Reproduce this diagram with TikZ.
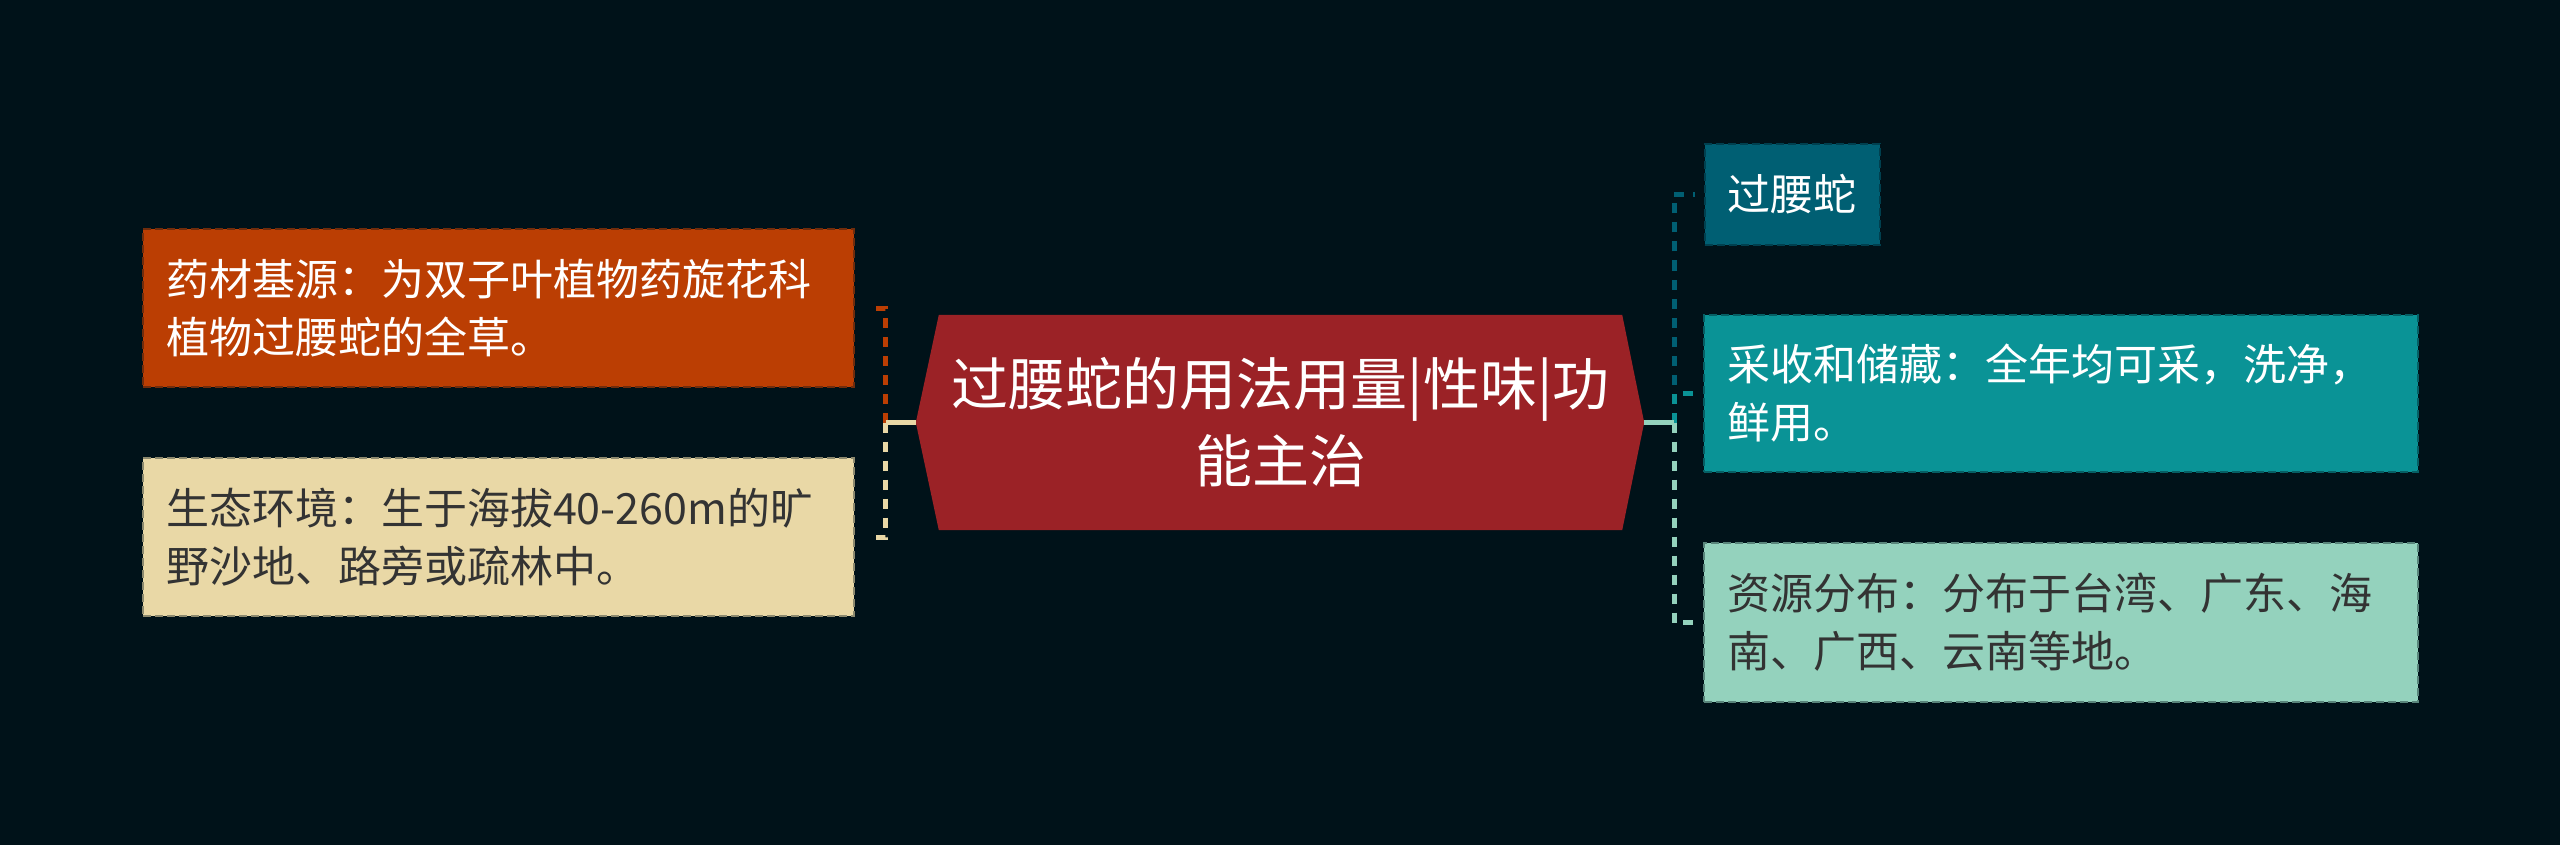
\documentclass[tikz,border=0pt]{standalone}
\usepackage{fontspec}
\setmainfont{Noto Sans CJK SC}
\usetikzlibrary{calc,backgrounds}
\definecolor{bgc}{HTML}{001219}
\definecolor{cdteal}{HTML}{005F73}
\definecolor{cteal}{HTML}{0A9396}
\definecolor{cmint}{HTML}{94D2BD}
\definecolor{cbeige}{HTML}{E9D8A6}
\definecolor{corange}{HTML}{BB3E03}
\definecolor{cred}{HTML}{9B2226}
\definecolor{darktext}{HTML}{333333}
\begin{document}
\begin{tikzpicture}[x=1pt,y=-1pt,
  box/.style={rectangle, inner xsep=23pt, inner ysep=0pt, align=left,
    font=\fontsize{43}{58}\selectfont, line width=1.5pt, dash pattern=on 8pt off 4pt},
  widebox/.style={box, minimum width=#1, text width=#1-46pt},
  obox/.style={fill=corange, draw=corange!60!bgc, text=white},
  bbox/.style={fill=cbeige, draw=cbeige!60!bgc, text=darktext},
  dtbox/.style={fill=cdteal, draw=cdteal!60!bgc, text=white},
  tbox/.style={fill=cteal, draw=cteal!60!bgc, text=white},
  mbox/.style={fill=cmint, draw=cmint!60!bgc, text=darktext},
  conn/.style={line width=5pt, dash pattern=on 10pt off 9pt},
  solidconn/.style={line width=4.5pt},
  hub/.style={rectangle, minimum width=683pt, minimum height=215pt, inner sep=0pt,
    align=center, text=white, font=\fontsize{57}{77}\selectfont}
]
\begin{scope}[on background layer]
\fill[bgc] (0,0) rectangle (2560,845);
\end{scope}
\useasboundingbox (0,0) rectangle (2560,845);

% central node
\node[hub] (c) at (1280.5,422.5) {过腰蛇的用法用量|性味|功\\能主治};
\coordinate (cl) at ($(c.west)+(-23,0)$);
\coordinate (cr) at ($(c.east)+(22,0)$);
\begin{scope}[on background layer]
\fill[cred] (c.north west) -- (c.north east) -- (cr) -- (c.south east) -- (c.south west) -- (cl) -- cycle;
\end{scope}

% left boxes
\node[widebox=711pt, minimum height=158pt, obox] (b1) at (498.5,308)
  {药材基源：为双子叶植物药旋花科\\植物过腰蛇的全草。};
\node[widebox=711pt, minimum height=158pt, bbox] (b2) at (498.5,537)
  {生态环境：生于海拔40-260m的旷\\野沙地、路旁或疏林中。};

% right boxes
\node[box, minimum height=101pt, dtbox, anchor=west] (r1) at (1704,194.5) {过腰蛇};
\node[widebox=714pt, minimum height=157pt, tbox] (r2) at (2061,393.5)
  {采收和储藏：全年均可采，洗净，\\鲜用。};
\node[widebox=714pt, minimum height=159pt, mbox] (r3) at (2061,622.5)
  {资源分布：分布于台湾、广东、海\\南、广西、云南等地。};

% connectors
\coordinate (tl) at ($(cl)+(-30,0)$);
\coordinate (tr) at ($(cr)+(30,0)$);
\draw[conn, corange] (tl) -- (tl |- b1.east) -- ($(b1.east)+(16,0)$);
\draw[conn, cbeige] (tl) -- (tl |- b2.east) -- ($(b2.east)+(16,0)$);
\draw[solidconn, cbeige] (cl) -- (tl);
\draw[conn, cdteal] (tr) -- (tr |- r1.west) -- ($(r1.west)+(-9,0)$);
\draw[conn, cteal] (tr) -- (tr |- r2.west) -- ($(r2.west)+(-9,0)$);
\draw[conn, cmint] (tr) -- (tr |- r3.west) -- ($(r3.west)+(-5,0)$);
\draw[solidconn, cmint] (cr) -- (tr);
\end{tikzpicture}
\end{document}
